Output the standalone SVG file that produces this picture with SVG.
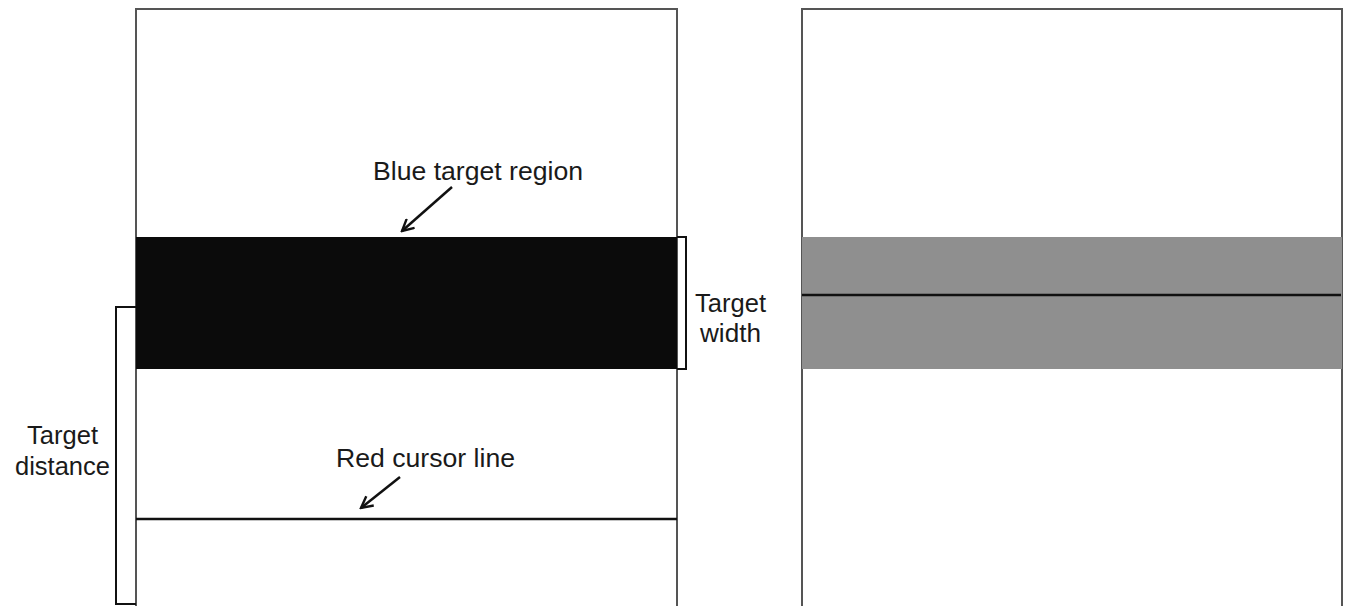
<svg xmlns="http://www.w3.org/2000/svg" width="1348" height="606" viewBox="0 0 1348 606">
<style>
.panel{fill:#fff;stroke:#555;stroke-width:2}
.lbl{font-family:"Liberation Sans",Arial,sans-serif;font-size:25px;fill:#1a1a1a}
.br{fill:none;stroke:#111;stroke-width:2}
.ln{stroke:#111;stroke-width:2.5}
.arr{stroke:#111;stroke-width:2.5;fill:none;marker-end:url(#ah)}
</style>
<defs>
<marker id="ah" viewBox="0 0 14 14" refX="12.5" refY="7" markerWidth="14" markerHeight="14" markerUnits="userSpaceOnUse" orient="auto">
<path d="M1,1 L12.5,7 L1,13" fill="none" stroke="#111" stroke-width="2.4"/>
</marker>
</defs>
<rect width="1348" height="606" fill="#fff"/>
<g id="left-panel">
<rect class="panel" x="136" y="9" width="541" height="600"/>
<rect x="136" y="237" width="541" height="132" fill="#0b0b0b"/>
<line class="ln" x1="136" y1="519" x2="677" y2="519"/>
</g>
<g id="right-panel">
<rect class="panel" x="802" y="9" width="540" height="600"/>
<rect x="802" y="237" width="540" height="132" fill="#8f8f8f"/>
<line class="ln" x1="802" y1="295" x2="1341" y2="295"/>
</g>
<g id="target-width">
<path class="br" d="M677,237 H686 V369 H677"/>
<text class="lbl" x="695" y="312" textLength="71" lengthAdjust="spacingAndGlyphs">Target</text>
<text class="lbl" x="700" y="342" textLength="61" lengthAdjust="spacingAndGlyphs">width</text>
</g>
<g id="target-distance">
<path class="br" d="M136,307 H116 V604 H136"/>
<text class="lbl" x="27" y="444" textLength="71" lengthAdjust="spacingAndGlyphs">Target</text>
<text class="lbl" x="15" y="475" textLength="95" lengthAdjust="spacingAndGlyphs">distance</text>
</g>
<g id="blue-label">
<text class="lbl" x="373" y="180" textLength="210" lengthAdjust="spacingAndGlyphs">Blue target region</text>
</g>
<g id="red-label">
<text class="lbl" x="336" y="467" textLength="179" lengthAdjust="spacingAndGlyphs">Red cursor line</text>
</g>
<g id="connectors">
<line class="arr" x1="452" y1="187" x2="402" y2="231"/>
<line class="arr" x1="400" y1="477" x2="361" y2="508"/>
</g>
</svg>
